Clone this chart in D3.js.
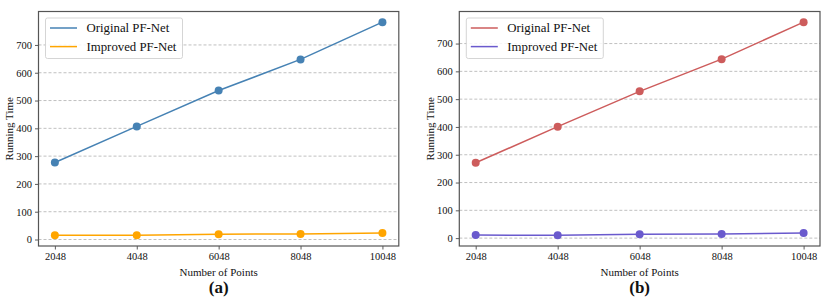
<!DOCTYPE html>
<html><head><meta charset="utf-8">
<script src="https://cdn.jsdelivr.net/npm/d3@7"></script>
<style>
html,body{margin:0;padding:0;background:#fff;}
svg{display:block;font-family:"Liberation Serif","DejaVu Serif",serif;}
</style></head>
<body>
<svg id="chart" width="830" height="301"></svg>
<script>
const pointCounts = [2048, 4048, 6048, 8048, 10048];
const yTicks = [0, 100, 200, 300, 400, 500, 600, 700];
const seriesNames = ["Original PF-Net", "Improved PF-Net"];
const originalA = [277, 407, 536, 648, 782];
const improvedA = [15, 15, 19, 20, 23];
const originalB = [271, 401, 528, 644, 777];
const improvedB = [11, 10, 14, 15, 18];
const colorsA = ["#4682b4", "#ffa500"];
const colorsB = ["#cd5c5c", "#6a5acd"];
const panelLabels = ["(a)", "(b)"];

const svg = d3.select("#chart");

function panel(opts) {
  const {left, right, top, bottom, seriesVals, colors, label} = opts;
  const g = svg.append("g");
  const x = d3.scaleLinear().domain([2048 - 400, 10048 + 400]).range([left, right]);
  const allVals = seriesVals.flat();
  const mn = d3.min(allVals), mx = d3.max(allVals);
  const pad = (mx - mn) * 0.05;
  const y = d3.scaleLinear().domain([mn - pad, mx + pad]).range([bottom, top]);

  // grid
  g.append("g").selectAll("line").data(yTicks).join("line")
    .attr("x1", left).attr("x2", right)
    .attr("y1", d => y(d)).attr("y2", d => y(d))
    .attr("stroke", "#b0b0b0").attr("stroke-width", 0.8)
    .attr("stroke-dasharray", "3,2");

  // axes
  const xa = g.append("g").attr("transform", `translate(0,${bottom})`)
    .call(d3.axisBottom(x).tickValues(pointCounts).tickFormat(d3.format("d")).tickSizeOuter(0).tickSize(3.5).tickPadding(3));
  const ya = g.append("g").attr("transform", `translate(${left},0)`)
    .call(d3.axisLeft(y).tickValues(yTicks).tickFormat(d3.format("d")).tickSizeOuter(0).tickSize(3.5).tickPadding(3));
  [xa, ya].forEach(a => {
    a.select(".domain").remove();
    a.selectAll("text").attr("font-size", 10.5).attr("fill", "#111")
      .attr("font-family", "Liberation Serif, serif");
    a.selectAll("line").attr("stroke", "#333").attr("stroke-width", 0.8);
  });

  // frame
  g.append("rect").attr("x", left).attr("y", top)
    .attr("width", right - left).attr("height", bottom - top)
    .attr("fill", "none").attr("stroke", "#555").attr("stroke-width", 1.2);

  // lines
  const line = d3.line().x((d, i) => x(pointCounts[i])).y(d => y(d));
  seriesVals.forEach((vals, si) => {
    g.append("path").datum(vals).attr("d", line)
      .attr("fill", "none").attr("stroke", colors[si]).attr("stroke-width", 1.5);
    g.append("g").selectAll("circle").data(vals).join("circle")
      .attr("cx", (d, i) => x(pointCounts[i])).attr("cy", d => y(d))
      .attr("r", 4).attr("fill", colors[si]);
  });

  // legend
  const lx = left + 7, ly = top + 6.5;
  g.append("rect").attr("x", lx).attr("y", ly).attr("width", 137).attr("height", 40.5)
    .attr("rx", 2).attr("fill", "#fff").attr("fill-opacity", 0.85)
    .attr("stroke", "#d0d0d0").attr("stroke-width", 0.9);
  seriesNames.forEach((nm, i) => {
    const yy = ly + 10 + i * 18.6;
    g.append("line").attr("x1", lx + 4.5).attr("x2", lx + 31.5)
      .attr("y1", yy).attr("y2", yy).attr("stroke", colors[i]).attr("stroke-width", 1.5);
    g.append("text").attr("x", lx + 41).attr("y", yy).attr("dy", "0.35em")
      .attr("font-size", 12.8).attr("fill", "#111").text(nm);
  });

  const cx = (left + right) / 2;
  g.append("text").attr("x", cx).attr("y", 272).attr("dy", "0.35em")
    .attr("text-anchor", "middle").attr("font-size", 11).attr("fill", "#111")
    .text("Number of Points");
  g.append("text").attr("transform", `translate(${left - 29},${(top + bottom) / 2}) rotate(-90)`)
    .attr("dy", "0.35em").attr("text-anchor", "middle").attr("font-size", 11).attr("fill", "#111")
    .text("Running Time");
  g.append("text").attr("x", cx).attr("y", 287).attr("dy", "0.35em")
    .attr("text-anchor", "middle").attr("font-size", 17).attr("font-weight", "bold").attr("fill", "#111")
    .text(label);
}

panel({left: 38.5, right: 398.8, top: 11.5, bottom: 246, seriesVals: [originalA, improvedA], colors: colorsA, label: panelLabels[0]});
panel({left: 459.3, right: 820, top: 11.5, bottom: 246, seriesVals: [originalB, improvedB], colors: colorsB, label: panelLabels[1]});
</script>
</body></html>
